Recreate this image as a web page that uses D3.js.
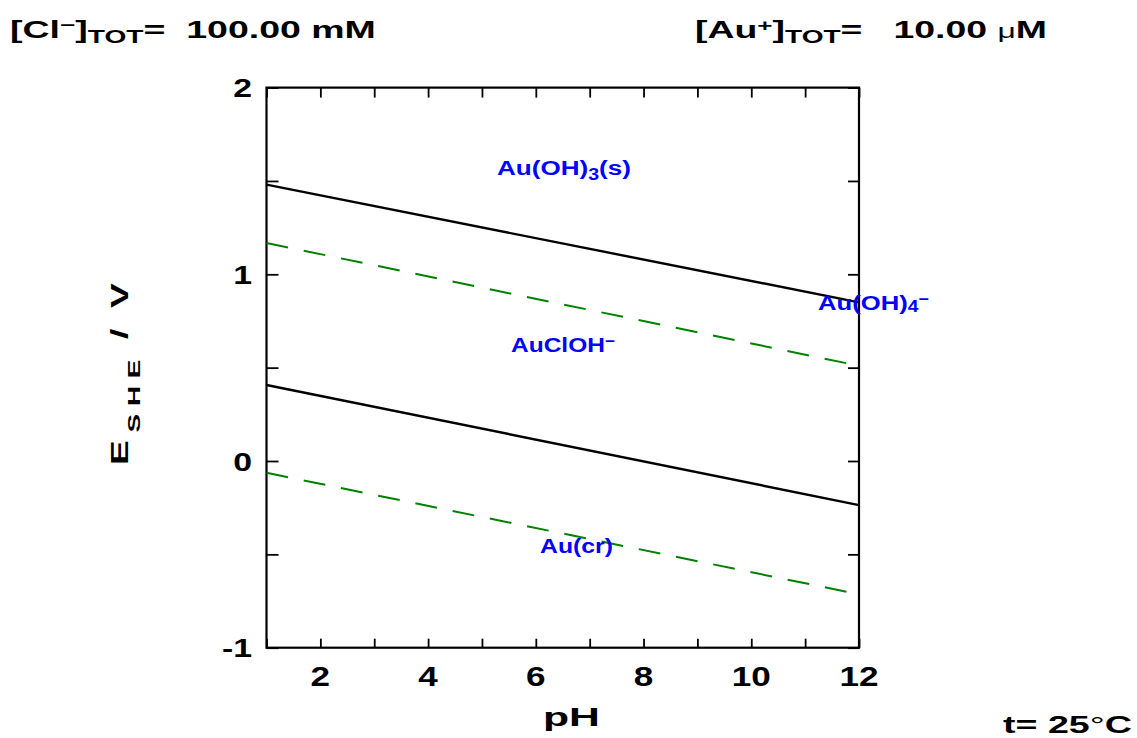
<!DOCTYPE html>
<html>
<head>
<meta charset="utf-8">
<script src="https://cdn.jsdelivr.net/npm/d3@7"></script>
<style>
  body { margin: 0; background: #fff; }
  svg { display: block; }
  text { font-family: "Liberation Sans", Arial, sans-serif; font-weight: bold; white-space: pre; }
</style>
</head>
<body>
<script>
// Pourbaix (E–pH) diagram for gold in chloride solution, 25 °C
const pHDomain = [1, 12];
const eDomain = [-1, 2];
const pHEnds = [1, 12];                 // each boundary is a straight line across the pH range
const boundaryUpper = [1.48, 0.85];     // Au(OH)3(s) / AuClOH-  (E, V)
const waterUpper = [1.168, 0.510];      // O2 / H2O
const boundaryLower = [0.407, -0.236];  // AuClOH- / Au(cr)
const waterLower = [-0.063, -0.714];    // H2O / H2
const xTickValues = [1, 2, 3, 4, 5, 6, 7, 8, 9, 10, 11, 12];
const xTickLabels = [2, 4, 6, 8, 10, 12];
const yTickValues = [-1, -0.5, 0, 0.5, 1, 1.5, 2];
const yTickLabels = [-1, 0, 1, 2];

const W = 1137, H = 738;
const svg = d3.select("body").append("svg").attr("width", W).attr("height", H);

const x = d3.scaleLinear().domain(pHDomain).range([266.5, 859]);
const y = d3.scaleLinear().domain(eDomain).range([647.7, 87.6]);

// Text made of plain / sub / sup pieces, stretched horizontally to a given width or factor
function richText(parent, o) {
  const g = parent.append("g");
  const t = g.append("text").attr("font-size", o.size).attr("fill", o.color || "#000");
  let prev = 0;
  o.parts.forEach(p => {
    const s = t.append("tspan").text(p.t);
    let shift = 0;
    if (p.sub) { s.attr("font-size", o.size * (p.scale || 0.75)); shift = o.size * (p.off || 0.22); }
    if (p.sup) { s.attr("font-size", o.size * (p.scale || 0.7)); shift = -o.size * (p.off || 0.38); }
    if (p.normal) s.attr("font-weight", "normal");
    if (p.scale && !p.sub && !p.sup) s.attr("font-size", o.size * p.scale);
    s.attr("dy", shift - prev);
    prev = shift;
  });
  const bb = t.node().getBBox();
  const sx = o.width ? o.width / bb.width : (o.sx || 1);
  let ref;
  if (o.anchor === "middle") ref = bb.x + bb.width / 2;
  else if (o.anchor === "end") ref = bb.x + bb.width;
  else ref = bb.x;
  const rot = o.rotate ? ` rotate(${o.rotate})` : "";
  g.attr("transform", `translate(${o.x},${o.y})${rot} translate(${-ref * sx},0) scale(${sx},1)`);
  return g;
}

// Plot frame
const plot = svg.append("g");
plot.append("rect")
  .attr("x", x(1)).attr("y", y(2))
  .attr("width", x(12) - x(1)).attr("height", y(-1) - y(2))
  .attr("fill", "none").attr("stroke", "#000").attr("stroke-width", 2.2);

// Inward ticks on all four sides
function ticks(axis, transform) {
  const g = plot.append("g").attr("transform", transform).call(axis);
  g.select(".domain").remove();
  g.selectAll(".tick line").attr("stroke", "#000").attr("stroke-width", 1.8);
  g.selectAll(".tick text").remove();
}
ticks(d3.axisBottom(x).tickValues(xTickValues).tickSize(-9), `translate(0,${y(-1)})`);
ticks(d3.axisTop(x).tickValues(xTickValues).tickSize(-10), `translate(0,${y(2)})`);
ticks(d3.axisLeft(y).tickValues(yTickValues).tickSize(-12), `translate(${x(1)},0)`);
ticks(d3.axisRight(y).tickValues(yTickValues).tickSize(-11), `translate(${x(12)},0)`);

// Tick labels
xTickLabels.forEach(v => richText(svg, { x: x(v), y: 686, anchor: "middle", size: 27, sx: 1.3, parts: [{ t: String(v) }] }));
yTickLabels.forEach(v => richText(svg, { x: 252, y: y(v) + 9.5, anchor: "end", size: 26, sx: 1.3, parts: [{ t: String(v) }] }));

// Boundary lines
const line = d3.line().x(d => x(d[0])).y(d => y(d[1]));
const pairs = vals => pHEnds.map((p, i) => [p, vals[i]]);
[[waterUpper, true], [waterLower, true], [boundaryUpper, false], [boundaryLower, false]].forEach(([vals, water]) => {
  plot.append("path")
    .attr("d", line(pairs(vals)))
    .attr("fill", "none")
    .attr("stroke", water ? "#008000" : "#000")
    .attr("stroke-width", water ? 2 : 2.4)
    .attr("stroke-dasharray", water ? "22,16" : null);
});

// Species fields
const blue = "#0000ff";
richText(svg, { x: 497, y: 175, size: 21, width: 134, color: blue,
  parts: [{ t: "Au(OH)" }, { t: "3", sub: true, off: 0.25 }, { t: "(s)" }] });
richText(svg, { x: 511, y: 352, size: 21, width: 104, color: blue,
  parts: [{ t: "AuClOH" }, { t: "−", sup: true, off: 0.3 }] });
richText(svg, { x: 818, y: 310, size: 21, width: 111, color: blue,
  parts: [{ t: "Au(OH)" }, { t: "4", sub: true, off: 0.1 }, { t: "−", sup: true, off: 0.3 }] });
richText(svg, { x: 540, y: 553, size: 21, width: 73, color: blue,
  parts: [{ t: "Au(cr)" }] });

// Axis titles
richText(svg, { x: 543, y: 726, size: 25, width: 57, parts: [{ t: "pH" }] });
richText(svg, { x: 128, y: 465, size: 23, width: 183, rotate: -90,
  parts: [{ t: "E" }, { t: " S H E", sub: true, off: 0.52 }, { t: "  /  V" }] });

// Conditions
richText(svg, { x: 10, y: 38, size: 24, width: 366,
  parts: [{ t: "[Cl" }, { t: "−", sup: true, off: 0.3 }, { t: "]" }, { t: "TOT", sub: true, off: 0.22 }, { t: "=  100.00 mM" }] });
richText(svg, { x: 695, y: 38, size: 24, width: 352,
  parts: [{ t: "[Au" }, { t: "+", sup: true, off: 0.3 }, { t: "]" }, { t: "TOT", sub: true, off: 0.22 }, { t: "=   10.00 " }, { t: "μ", normal: true, scale: 0.85 }, { t: "M" }] });
richText(svg, { x: 1003, y: 733, size: 24, width: 129,
  parts: [{ t: "t= 25" }, { t: "°", normal: true }, { t: "C" }] });
</script>
</body>
</html>
